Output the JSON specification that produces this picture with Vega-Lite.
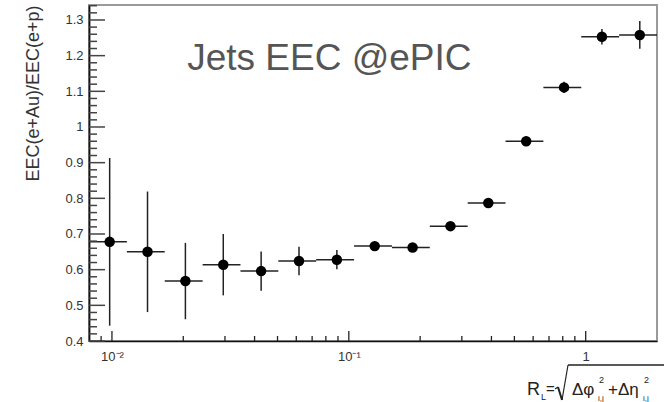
{
  "$schema": "https://vega.github.io/schema/vega-lite/v6.json",
  "width": 568,
  "height": 336,
  "autosize": {"type": "none"},
  "padding": {"left": 89, "top": 5, "right": 7, "bottom": 61},
  "background": "white",
  "config": {
    "view": {"stroke": "#9a9a9a", "strokeWidth": 2},
    "font": "Liberation Sans"
  },
  "datasets": {
    "bins": [
      {"x": 0.00978, "xlo": 0.008, "xhi": 0.01156, "y": 0.678, "ylo": 0.443, "yhi": 0.913},
      {"x": 0.01413, "xlo": 0.01156, "xhi": 0.0167, "y": 0.65, "ylo": 0.481, "yhi": 0.819},
      {"x": 0.02042, "xlo": 0.0167, "xhi": 0.02414, "y": 0.568, "ylo": 0.461, "yhi": 0.675},
      {"x": 0.02951, "xlo": 0.02414, "xhi": 0.03488, "y": 0.614, "ylo": 0.528, "yhi": 0.7},
      {"x": 0.04264, "xlo": 0.03488, "xhi": 0.05039, "y": 0.596, "ylo": 0.541, "yhi": 0.651},
      {"x": 0.06161, "xlo": 0.05039, "xhi": 0.07282, "y": 0.6245, "ylo": 0.5845, "yhi": 0.6645},
      {"x": 0.08902, "xlo": 0.07282, "xhi": 0.10522, "y": 0.628, "ylo": 0.601, "yhi": 0.655},
      {"x": 0.12863, "xlo": 0.10522, "xhi": 0.15204, "y": 0.666, "ylo": 0.654, "yhi": 0.678},
      {"x": 0.18587, "xlo": 0.15204, "xhi": 0.21969, "y": 0.662, "ylo": 0.652, "yhi": 0.672},
      {"x": 0.26857, "xlo": 0.21969, "xhi": 0.31745, "y": 0.722, "ylo": 0.712, "yhi": 0.732},
      {"x": 0.38808, "xlo": 0.31745, "xhi": 0.45871, "y": 0.787, "ylo": 0.776, "yhi": 0.798},
      {"x": 0.56076, "xlo": 0.45871, "xhi": 0.66282, "y": 0.96, "ylo": 0.947, "yhi": 0.973},
      {"x": 0.81028, "xlo": 0.66282, "xhi": 0.95775, "y": 1.111, "ylo": 1.095, "yhi": 1.127},
      {"x": 1.17084, "xlo": 0.95775, "xhi": 1.38392, "y": 1.253, "ylo": 1.231, "yhi": 1.275},
      {"x": 1.69196, "xlo": 1.38392, "xhi": 2.0, "y": 1.258, "ylo": 1.219, "yhi": 1.297}
    ],
    "yMajor": [{"t": 0.4}, {"t": 0.5}, {"t": 0.6}, {"t": 0.7}, {"t": 0.8}, {"t": 0.9}, {"t": 1.0}, {"t": 1.1}, {"t": 1.2}, {"t": 1.3}],
    "yMinor": [{"t": 0.42}, {"t": 0.44}, {"t": 0.46}, {"t": 0.48}, {"t": 0.52}, {"t": 0.54}, {"t": 0.56}, {"t": 0.58}, {"t": 0.62}, {"t": 0.64}, {"t": 0.66}, {"t": 0.68}, {"t": 0.72}, {"t": 0.74}, {"t": 0.76}, {"t": 0.78}, {"t": 0.82}, {"t": 0.84}, {"t": 0.86}, {"t": 0.88}, {"t": 0.92}, {"t": 0.94}, {"t": 0.96}, {"t": 0.98}, {"t": 1.02}, {"t": 1.04}, {"t": 1.06}, {"t": 1.08}, {"t": 1.12}, {"t": 1.14}, {"t": 1.16}, {"t": 1.18}, {"t": 1.22}, {"t": 1.24}, {"t": 1.26}, {"t": 1.28}, {"t": 1.32}, {"t": 1.34}],
    "xMajor": [{"t": 0.01}, {"t": 0.1}, {"t": 1}],
    "xMinor": [{"t": 0.009}, {"t": 0.02}, {"t": 0.03}, {"t": 0.04}, {"t": 0.05}, {"t": 0.06}, {"t": 0.07}, {"t": 0.08}, {"t": 0.09}, {"t": 0.2}, {"t": 0.3}, {"t": 0.4}, {"t": 0.5}, {"t": 0.6}, {"t": 0.7}, {"t": 0.8}, {"t": 0.9}]
  },
  "data": {"name": "bins"},
  "resolve": {"axis": {"x": "independent", "y": "independent"}},
  "layer": [
    {
      "mark": {"type": "rule", "color": "#222", "strokeWidth": 1.5},
      "encoding": {
        "x": {
          "field": "xlo", "type": "quantitative",
          "scale": {"type": "log", "domain": [0.008, 2], "nice": false},
          "axis": {
            "orient": "bottom",
            "title": null,
            "grid": false,
            "ticks": false,
            "tickCount": 500,
            "values": [0.01, 0.1, 1],
            "labelExpr": "datum.value == 0.01 ? '10⁻²' : datum.value == 0.1 ? '10⁻¹' : '1'",
            "labelOverlap": false,
            "labelFlush": false,
            "labelFontSize": 13,
            "labelColor": "#333",
            "labelPadding": 9,
            "domainColor": "#111",
            "domainWidth": 1.5
          }
        },
        "x2": {"field": "xhi"},
        "y": {
          "field": "y", "type": "quantitative",
          "scale": {"domain": [0.4, 1.342], "nice": false, "zero": false},
          "axis": {
            "orient": "left",
            "title": "EEC(e+Au)/EEC(e+p)",
            "titleAnchor": "end",
            "titleFontSize": 18,
            "titleFontWeight": "normal",
            "titleColor": "#333",
            "titlePadding": 22,
            "grid": false,
            "ticks": false,
            "tickCount": 500,
            "values": [0.4, 0.5, 0.6, 0.7, 0.8, 0.9, 1.0, 1.1, 1.2, 1.3],
            "labelExpr": "format(datum.value, '~g')",
            "labelOverlap": false,
            "labelFlush": false,
            "labelFontSize": 13,
            "labelColor": "#333",
            "labelPadding": 6,
            "domainColor": "#111",
            "domainWidth": 1.8
          }
        }
      }
    },
    {
      "data": {"name": "yMajor"},
      "mark": {"type": "rule", "color": "#444", "strokeWidth": 1.5},
      "encoding": {
        "y": {"field": "t", "type": "quantitative", "axis": null},
        "x": {"datum": 0.008, "type": "quantitative", "axis": null},
        "x2": {"datum": 0.009346}
      }
    },
    {
      "data": {"name": "yMinor"},
      "mark": {"type": "rule", "color": "#444", "strokeWidth": 1.5},
      "encoding": {
        "y": {"field": "t", "type": "quantitative", "axis": null},
        "x": {"datum": 0.008, "type": "quantitative", "axis": null},
        "x2": {"datum": 0.008647}
      }
    },
    {
      "data": {"name": "xMajor"},
      "mark": {"type": "rule", "color": "#222", "strokeWidth": 1.3},
      "encoding": {
        "x": {"field": "t", "type": "quantitative", "axis": null},
        "y": {"datum": 0.4, "type": "quantitative", "axis": null},
        "y2": {"datum": 0.42804}
      }
    },
    {
      "data": {"name": "xMinor"},
      "mark": {"type": "rule", "color": "#222", "strokeWidth": 1.3},
      "encoding": {
        "x": {"field": "t", "type": "quantitative", "axis": null},
        "y": {"datum": 0.4, "type": "quantitative", "axis": null},
        "y2": {"datum": 0.41402}
      }
    },
    {
      "mark": {"type": "rule", "color": "#222", "strokeWidth": 1.5},
      "encoding": {
        "x": {"field": "x", "type": "quantitative", "axis": null},
        "y": {"field": "ylo", "type": "quantitative", "axis": null},
        "y2": {"field": "yhi"}
      }
    },
    {
      "mark": {"type": "point", "filled": true, "shape": "circle", "size": 110, "color": "#000", "opacity": 1},
      "encoding": {
        "x": {"field": "x", "type": "quantitative", "axis": null},
        "y": {"field": "y", "type": "quantitative", "axis": null}
      }
    },
    {
      "data": {"values": [{}]},
      "mark": {"type": "text", "text": "Jets EEC @ePIC", "fontSize": 37, "color": "#555", "align": "left", "baseline": "alphabetic"},
      "encoding": {"x": {"datum": 0.02078, "type": "quantitative", "axis": null}, "y": {"datum": 1.16, "type": "quantitative", "axis": null}}
    },
    {
      "data": {"values": [{}]},
      "mark": {"type": "text", "text": "R", "fontSize": 18, "color": "#222", "align": "left", "baseline": "alphabetic"},
      "encoding": {"x": {"datum": 0.5652, "type": "quantitative", "axis": null}, "y": {"datum": 0.2486, "type": "quantitative", "axis": null}}
    },
    {
      "data": {"values": [{}]},
      "mark": {"type": "text", "text": "L", "fontSize": 9, "color": "#222", "align": "left", "baseline": "alphabetic"},
      "encoding": {"x": {"datum": 0.6476, "type": "quantitative", "axis": null}, "y": {"datum": 0.2346, "type": "quantitative", "axis": null}}
    },
    {
      "data": {"values": [{}]},
      "mark": {"type": "text", "text": "=", "fontSize": 15, "color": "#222", "align": "left", "baseline": "alphabetic"},
      "encoding": {"x": {"datum": 0.68, "type": "quantitative", "axis": null}, "y": {"datum": 0.2514, "type": "quantitative", "axis": null}}
    },
    {
      "data": {"values": [{}]},
      "mark": {"type": "rule", "color": "#222", "strokeWidth": 1.2},
      "encoding": {"x": {"datum": 0.742, "type": "quantitative", "axis": null}, "x2": {"datum": 0.764}, "y": {"datum": 0.26543, "type": "quantitative", "axis": null}, "y2": {"datum": 0.27104}}
    },
    {
      "data": {"values": [{}]},
      "mark": {"type": "rule", "color": "#222", "strokeWidth": 2},
      "encoding": {"x": {"datum": 0.764, "type": "quantitative", "axis": null}, "x2": {"datum": 0.7943}, "y": {"datum": 0.27104, "type": "quantitative", "axis": null}, "y2": {"datum": 0.23459}}
    },
    {
      "data": {"values": [{}]},
      "mark": {"type": "rule", "color": "#222", "strokeWidth": 1.2},
      "encoding": {"x": {"datum": 0.7943, "type": "quantitative", "axis": null}, "x2": {"datum": 0.8421}, "y": {"datum": 0.23459, "type": "quantitative", "axis": null}, "y2": {"datum": 0.33272}}
    },
    {
      "data": {"values": [{}]},
      "mark": {"type": "rule", "color": "#222", "strokeWidth": 1.3},
      "encoding": {"x": {"datum": 0.8421, "type": "quantitative", "axis": null}, "x2": {"datum": 2.141}, "y": {"datum": 0.33272, "type": "quantitative", "axis": null}}
    },
    {
      "data": {"values": [{}]},
      "mark": {"type": "text", "text": "Δφ", "fontSize": 17, "color": "#222", "align": "left", "baseline": "alphabetic"},
      "encoding": {"x": {"datum": 0.8754, "type": "quantitative", "axis": null}, "y": {"datum": 0.2486, "type": "quantitative", "axis": null}}
    },
    {
      "data": {"values": [{}]},
      "mark": {"type": "text", "text": "2", "fontSize": 9, "color": "#222", "align": "left", "baseline": "alphabetic"},
      "encoding": {"x": {"datum": 1.138, "type": "quantitative", "axis": null}, "y": {"datum": 0.2823, "type": "quantitative", "axis": null}}
    },
    {
      "data": {"values": [{}]},
      "mark": {"type": "text", "text": "i,j", "fontSize": 8, "color": "#222", "align": "left", "baseline": "alphabetic"},
      "encoding": {"x": {"datum": 1.127, "type": "quantitative", "axis": null}, "y": {"datum": 0.2318, "type": "quantitative", "axis": null}}
    },
    {
      "data": {"values": [{}]},
      "mark": {"type": "text", "text": "+Δη", "fontSize": 17, "color": "#222", "align": "left", "baseline": "alphabetic"},
      "encoding": {"x": {"datum": 1.2421, "type": "quantitative", "axis": null}, "y": {"datum": 0.2486, "type": "quantitative", "axis": null}}
    },
    {
      "data": {"values": [{}]},
      "mark": {"type": "text", "text": "2", "fontSize": 9, "color": "#222", "align": "left", "baseline": "alphabetic"},
      "encoding": {"x": {"datum": 1.763, "type": "quantitative", "axis": null}, "y": {"datum": 0.2823, "type": "quantitative", "axis": null}}
    },
    {
      "data": {"values": [{}]},
      "mark": {"type": "text", "text": "i,j", "fontSize": 8, "color": "#222", "align": "left", "baseline": "alphabetic"},
      "encoding": {"x": {"datum": 1.7457, "type": "quantitative", "axis": null}, "y": {"datum": 0.2318, "type": "quantitative", "axis": null}}
    }
  ]
}
